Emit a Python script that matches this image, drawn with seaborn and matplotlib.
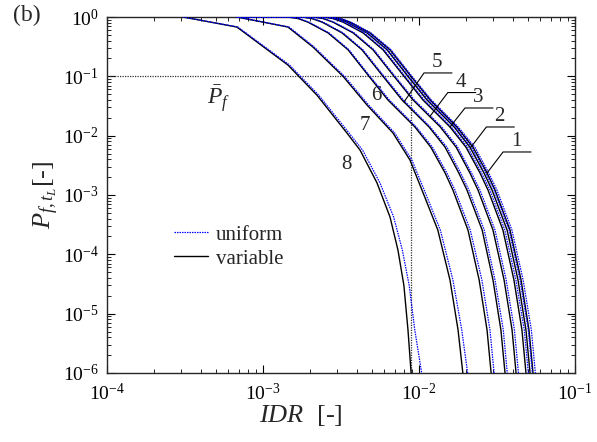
import numpy as np
import pandas as pd
import matplotlib
matplotlib.use("Agg")
import matplotlib.pyplot as plt
from matplotlib.lines import Line2D
import seaborn as sns

# ---------------- data ----------------
# exceedance probability levels shared by curves 1-6
p_levels = [1.0, 1.0, 0.94, 0.82, 0.54, 0.28, 0.10, 0.040, 0.014, 6.4e-3, 2.35e-3,
            1.21e-3, 2.57e-4, 3.7e-5, 5.3e-6, 1.0e-6]

idr_var_1 = [6.8e-4, 2.69e-3, 3.12e-3, 3.61e-3, 4.85e-3, 6.52e-3, 8.89e-3, 1.18e-2, 1.75e-2,
             2.22e-2, 2.73e-2, 3.07e-2, 3.83e-2, 4.51e-2, 5.07e-2, 5.38e-2]
idr_uni_1 = [6.8e-4, 2.73e-3, 3.17e-3, 3.66e-3, 4.92e-3, 6.62e-3, 9.02e-3, 1.20e-2, 1.785e-2,
             2.28e-2, 2.80e-2, 3.16e-2, 3.94e-2, 4.65e-2, 5.25e-2, 5.57e-2]
idr_var_2 = [6.8e-4, 2.57e-3, 2.98e-3, 3.45e-3, 4.64e-3, 6.24e-3, 8.49e-3, 1.125e-2, 1.68e-2,
             2.12e-2, 2.61e-2, 2.94e-2, 3.67e-2, 4.31e-2, 4.85e-2, 5.15e-2]
idr_uni_2 = [6.8e-4, 2.61e-3, 3.02e-3, 3.50e-3, 4.71e-3, 6.33e-3, 8.62e-3, 1.15e-2, 1.71e-2,
             2.17e-2, 2.68e-2, 3.03e-2, 3.78e-2, 4.44e-2, 5.02e-2, 5.33e-2]
idr_var_3 = [6.8e-4, 2.43e-3, 2.81e-3, 3.26e-3, 4.38e-3, 5.88e-3, 8.02e-3, 1.06e-2, 1.58e-2,
             2.0e-2, 2.46e-2, 2.77e-2, 3.45e-2, 4.06e-2, 4.57e-2, 4.85e-2]
idr_uni_3 = [6.8e-4, 2.47e-3, 2.85e-3, 3.31e-3, 4.45e-3, 5.97e-3, 8.14e-3, 1.08e-2, 1.61e-2,
             2.05e-2, 2.52e-2, 2.85e-2, 3.55e-2, 4.18e-2, 4.73e-2, 5.02e-2]
idr_var_4 = [6.8e-4, 2.09e-3, 2.43e-3, 2.81e-3, 3.78e-3, 5.07e-3, 6.92e-3, 9.16e-3, 1.37e-2,
             1.73e-2, 2.12e-2, 2.39e-2, 2.98e-2, 3.51e-2, 3.95e-2, 4.19e-2]
idr_uni_4 = [6.8e-4, 2.12e-3, 2.47e-3, 2.85e-3, 3.84e-3, 5.15e-3, 7.02e-3, 9.34e-3, 1.40e-2,
             1.77e-2, 2.17e-2, 2.46e-2, 3.07e-2, 3.62e-2, 4.09e-2, 4.34e-2]
idr_var_5 = [6.8e-4, 1.78e-3, 2.06e-3, 2.39e-3, 3.21e-3, 4.31e-3, 5.88e-3, 7.78e-3, 1.16e-2,
             1.47e-2, 1.80e-2, 2.03e-2, 2.54e-2, 2.98e-2, 3.35e-2, 3.56e-2]
idr_uni_5 = [6.8e-4, 1.81e-3, 2.09e-3, 2.43e-3, 3.26e-3, 4.37e-3, 5.97e-3, 7.94e-3, 1.18e-2,
             1.51e-2, 1.85e-2, 2.09e-2, 2.62e-2, 3.07e-2, 3.47e-2, 3.68e-2]
idr_var_6 = [6.8e-4, 1.445e-3, 1.68e-3, 1.94e-3, 2.61e-3, 3.51e-3, 4.78e-3, 6.32e-3, 9.42e-3,
             1.19e-2, 1.47e-2, 1.65e-2, 2.06e-2, 2.43e-2, 2.73e-2, 2.90e-2]
idr_uni_6 = [6.8e-4, 1.47e-3, 1.71e-3, 1.97e-3, 2.65e-3, 3.56e-3, 4.85e-3, 6.45e-3, 9.61e-3,
             1.22e-2, 1.51e-2, 1.70e-2, 2.13e-2, 2.53e-2, 2.85e-2, 3.03e-2]

p_7 = [1.0, 0.678, 0.312, 0.10, 0.0329, 0.0111, 3.89e-3, 1.21e-3, 2.57e-4, 3.69e-5, 5.3e-6, 1.0e-6]
idr_var_7 = [6.8e-4, 1.445e-3, 2.09e-3, 3.26e-3, 4.64e-3, 6.81e-3, 8.75e-3, 1.045e-2,
             1.32e-2, 1.58e-2, 1.78e-2, 1.91e-2]
idr_uni_7 = [6.8e-4, 1.47e-3, 2.13e-3, 3.33e-3, 4.75e-3, 6.99e-3, 9.0e-3, 1.08e-2,
             1.37e-2, 1.65e-2, 1.88e-2, 2.05e-2]

p_8 = [1.0, 0.678, 0.155, 0.048, 0.0111, 5.7e-3, 1.6e-3, 4.25e-4, 1.18e-4, 3.0e-5, 5.3e-6, 1.0e-6]
idr_var_8 = [3.07e-4, 6.8e-4, 1.445e-3, 2.22e-3, 3.45e-3, 4.19e-3, 5.38e-3, 6.52e-3,
             7.33e-3, 8.0e-3, 8.5e-3, 8.9e-3]
idr_uni_8 = [3.07e-4, 6.9e-4, 1.48e-3, 2.28e-3, 3.56e-3, 4.35e-3, 5.62e-3, 6.88e-3,
             7.82e-3, 8.65e-3, 9.4e-3, 1.04e-2]

pf_target = 0.1
idr_limit = 8.9e-3

curve_ids = [1, 2, 3, 4, 5, 6, 7, 8]
legend_labels = ["uniform", "variable"]

# ---------------- build long table ----------------
curves = {
    1: (p_levels, idr_var_1, idr_uni_1),
    2: (p_levels, idr_var_2, idr_uni_2),
    3: (p_levels, idr_var_3, idr_uni_3),
    4: (p_levels, idr_var_4, idr_uni_4),
    5: (p_levels, idr_var_5, idr_uni_5),
    6: (p_levels, idr_var_6, idr_uni_6),
    7: (p_7, idr_var_7, idr_uni_7),
    8: (p_8, idr_var_8, idr_uni_8),
}
rows = []
for k in curve_ids:
    p, v, u = curves[k]
    for i, (pp, xv, xu) in enumerate(zip(p, v, u)):
        rows.append(dict(curve=k, kind="variable", IDR=xv, P=pp, order=i))
        rows.append(dict(curve=k, kind="uniform", IDR=xu, P=pp, order=i))
df = pd.DataFrame(rows)

# ---------------- style ----------------
sns.set_style("ticks")
plt.rcParams["font.family"] = ["Liberation Serif", "DejaVu Serif"]
plt.rcParams["mathtext.fontset"] = "custom"
plt.rcParams["mathtext.rm"] = "Liberation Serif"
plt.rcParams["mathtext.it"] = "Liberation Serif:italic"
plt.rcParams["mathtext.bf"] = "Liberation Serif:bold"

W, H = 597, 442
fig = plt.figure(figsize=(W / 100, H / 100), dpi=100)
L, R, T, B = 107, 575, 17, 373
ax = fig.add_axes([L / W, 1 - B / H, (R - L) / W, (B - T) / H])
ax.set_xscale("log")
ax.set_yscale("log")
ax.set_xlim(1e-4, 1e-1)
ax.set_ylim(1e-6, 1)

var_df = df[df.kind == "variable"]
uni_df = df[df.kind == "uniform"]
sns.lineplot(data=var_df, x="IDR", y="P", units="curve", estimator=None, sort=False,
             color="black", lw=1.0, ax=ax, legend=False, zorder=3)
sns.lineplot(data=uni_df, x="IDR", y="P", units="curve", estimator=None, sort=False,
             color="#0000ff", lw=0.9, linestyle=(0, (1.2, 0.8)), ax=ax, legend=False, zorder=4)

# reference lines
ax.plot([1e-4, idr_limit], [pf_target, pf_target], color="#333333", lw=0.9,
        linestyle=(0, (1, 1)), zorder=2)
ax.plot([idr_limit, idr_limit], [1e-6, pf_target], color="#333333", lw=0.9,
        linestyle=(0, (1, 1)), zorder=2)

# axes styling
for s in ax.spines.values():
    s.set_linewidth(1.0)
ax.tick_params(which="both", direction="in", top=True, right=True, labelsize=14,
               colors="black")
ax.tick_params(which="major", length=6, width=0.8)
ax.tick_params(which="minor", length=3, width=0.6)
ax.tick_params(axis="x", which="major", pad=7)
ax.tick_params(axis="y", which="major", pad=6)
ax.set_xlabel(r"$IDR$  [-]", fontsize=19)
ax.xaxis.set_label_coords(0.415, -0.085)
ax.set_ylabel(r"$P_{f,t_L}$[-]", fontsize=19)
ax.yaxis.set_label_coords(-0.098, 0.5)
fig.text(13 / W, 1 - 15 / H, "(b)", ha="left", va="center", fontsize=17)

# legend
handles = [Line2D([], [], color="#0000ff", lw=0.9, linestyle=(0, (1.2, 0.8))),
           Line2D([], [], color="black", lw=1.0)]
ax.legend(handles, legend_labels, loc="upper left",
          bbox_to_anchor=((174 - L) / (R - L), (B - 225) / (B - T)),
          frameon=False, fontsize=15, handlelength=1.65, handletextpad=0.35,
          labelspacing=0.22, borderpad=0, borderaxespad=0)

# curve labels with leader lines (labels 1-5)
tip_p = {1: 2.35e-3, 2: 6.2e-3, 3: 0.014, 4: 0.021, 5: 0.037}
elbow_px = {1: (16, 21), 2: (16, 21), 3: (15, 19), 4: (18, 24), 5: (20, 29)}
seg_len = 28
for k in [1, 2, 3, 4, 5]:
    p, v, _ = curves[k]
    lp = np.log10(p)[::-1]
    lx = np.log10(v)[::-1]
    tipx = 10 ** np.interp(np.log10(tip_p[k]), lp, lx)
    tip_d = ax.transData.transform((tipx, tip_p[k]))
    elb_d = tip_d + np.array(elbow_px[k])
    end_d = elb_d + np.array([seg_len, 0])
    pts = ax.transData.inverted().transform(np.vstack([tip_d, elb_d, end_d]))
    ax.plot(pts[:, 0], pts[:, 1], color="black", lw=0.8, zorder=5)
    lab = ax.transData.inverted().transform(end_d + np.array([-15, 1]))
    ax.text(lab[0], lab[1], str(k), ha="center", va="bottom", fontsize=15)

# labels without leaders
ax.text(5.3e-3, 0.048, "6", ha="center", va="center", fontsize=15)
ax.text(4.5e-3, 0.0151, "7", ha="center", va="center", fontsize=15)
ax.text(3.45e-3, 3.3e-3, "8", ha="center", va="center", fontsize=15)
ax.text(5.2e-4, 0.042, r"$\bar{P}_f$", ha="center", va="center", fontsize=17)

fig.savefig("out.png", dpi=100)
